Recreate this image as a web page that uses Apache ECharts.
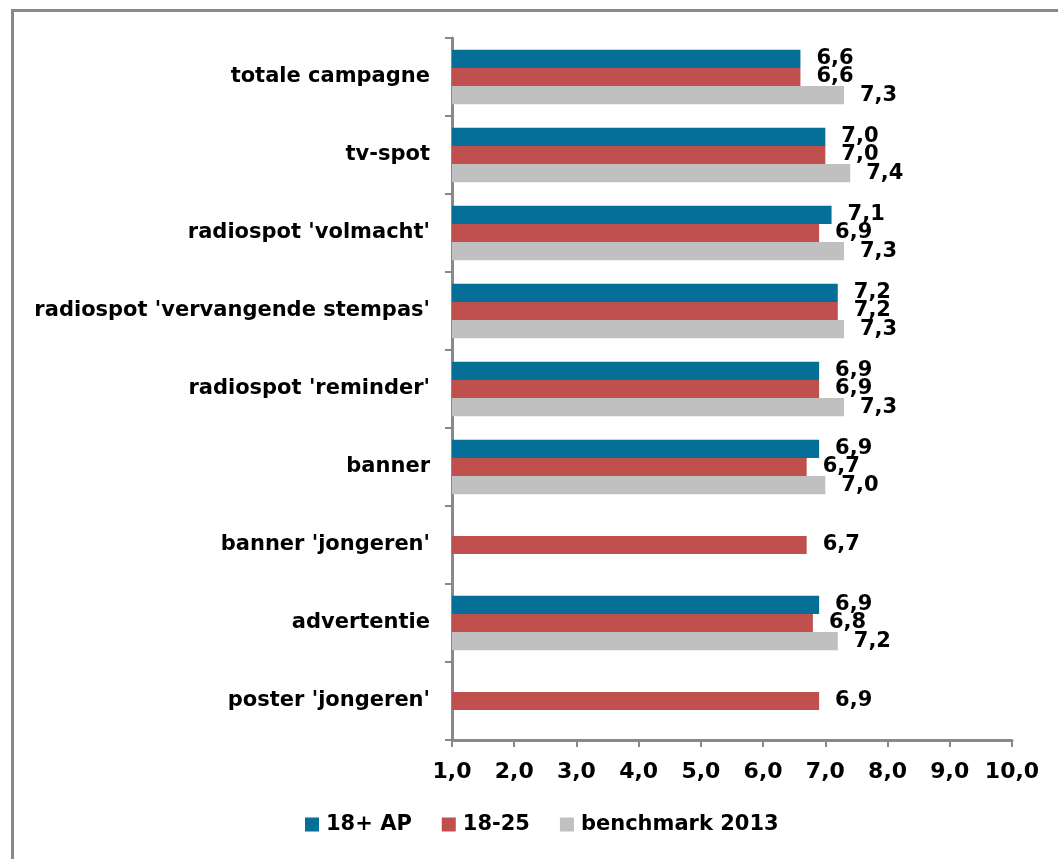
<!DOCTYPE html>
<html>
<head>
<meta charset="utf-8">
<script src="https://cdn.jsdelivr.net/npm/echarts@6/dist/echarts.min.js"></script>
<style>
    html,body{margin:0;padding:0;background:#fff;}
    #chart{width:1058px;height:859px;}
</style>
</head>
<body>
<div id="chart"></div>
<script>
    var categories = ['totale campagne', 'tv-spot', "radiospot 'volmacht'", "radiospot 'vervangende stempas'",
        "radiospot 'reminder'", 'banner', "banner 'jongeren'", 'advertentie', "poster 'jongeren'"];
    var ap18 = [6.6, 7.0, 7.1, 7.2, 6.9, 6.9, null, 6.9, null];
    var jong1825 = [6.6, 7.0, 6.9, 7.2, 6.9, 6.7, 6.7, 6.8, 6.9];
    var benchmark = [7.3, 7.4, 7.3, 7.3, 7.3, 7.0, null, 7.2, null];
    var xTicks = [1, 2, 3, 4, 5, 6, 7, 8, 9, 10];

    var myChart = echarts.init(document.getElementById('chart'));

    //komma als decimaalteken
    function fmt(v){
        return Number(v).toFixed(1).replace('.', ',');
    }

    var font = '"DejaVu Sans", Verdana, sans-serif';
    var axisGray = '#898989';

    var labelStyle = {
        show: true,
        position: 'right',
        distance: 16,
        color: '#000',
        fontFamily: font,
        fontWeight: 'bold',
        fontSize: 21,
        formatter: function (p) { return fmt(p.value); }
    };

    function makeSeries(name, data, color){
        return {
            name: name,
            type: 'bar',
            data: data,
            barGap: '0%',
            barCategoryGap: '30%',
            itemStyle: { color: color },
            label: labelStyle
        };
    }

    var option = {
        animation: false,
        textStyle: { fontFamily: font },
        graphic: [{
            type: 'rect',
            shape: { x: 12.5, y: 10.5, width: 1100, height: 900 },
            style: { fill: 'none', stroke: axisGray, lineWidth: 3 }
        }],
        grid: { left: 452, right: 46, top: 38, bottom: 119 },
        legend: {
            left: 300,
            top: 809,
            icon: 'rect',
            itemWidth: 14,
            itemHeight: 14,
            itemGap: 30,
            textStyle: { color: '#000', fontWeight: 'bold', fontSize: 21, fontFamily: font, padding: [0, 0, 0, 2] },
            data: ['18+ AP', '18-25', 'benchmark 2013']
        },
        xAxis: {
            type: 'value',
            min: xTicks[0],
            max: xTicks[xTicks.length - 1],
            interval: 1,
            splitLine: { show: false },
            axisLine: { show: true, lineStyle: { color: axisGray, width: 3 } },
            axisTick: { show: true, length: 7, lineStyle: { color: axisGray, width: 2 } },
            axisLabel: {
                margin: 21,
                color: '#000',
                fontWeight: 'bold',
                fontSize: 22,
                fontFamily: font,
                formatter: fmt
            }
        },
        yAxis: {
            type: 'category',
            inverse: true,
            data: categories,
            axisLine: { show: true, lineStyle: { color: axisGray, width: 3 } },
            axisTick: { show: true, length: 7, lineStyle: { color: axisGray, width: 2 } },
            axisLabel: {
                margin: 22,
                color: '#000',
                fontWeight: 'bold',
                fontSize: 21,
                fontFamily: font
            }
        },
        series: [
            makeSeries('18+ AP', ap18, '#066F97'),
            makeSeries('18-25', jong1825, '#C0504D'),
            makeSeries('benchmark 2013', benchmark, '#C0C0C0')
        ]
    };

    myChart.setOption(option, true);
</script>
</body>
</html>
